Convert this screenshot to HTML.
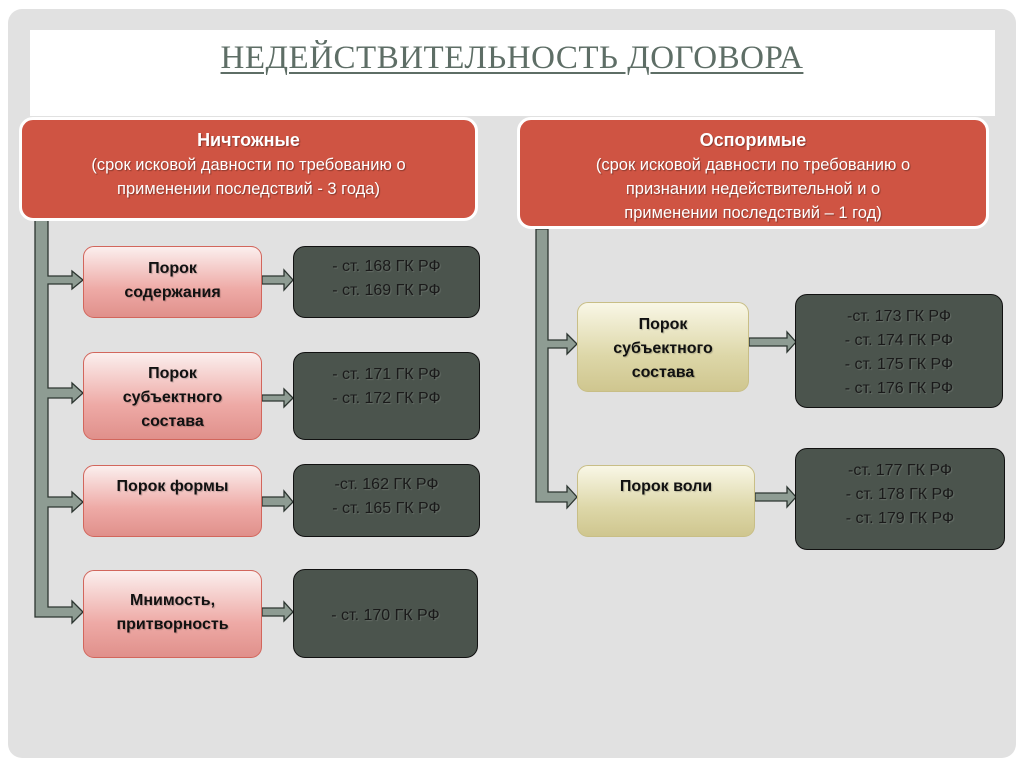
<!DOCTYPE html>
<html><head><meta charset="utf-8"><style>
*{margin:0;padding:0;box-sizing:border-box}
body{width:1024px;height:767px;background:#fff;position:relative;overflow:hidden;font-family:"Liberation Sans","DejaVu Sans",sans-serif}
.panel{position:absolute;left:8px;top:9px;width:1008px;height:749px;background:#e1e1e1;border-radius:14px}
.white{position:absolute;left:30px;top:30px;width:965px;height:86px;background:#fff}
.title{position:absolute;left:0;top:40px;width:1024px;text-align:center;font-family:"Liberation Serif",serif;font-size:33px;color:#5e6e66;text-decoration:underline;text-decoration-thickness:2px;text-underline-offset:4px;letter-spacing:0.5px}
.hdr{position:absolute;background:#cf5443;border:3px solid #fff;border-radius:14px;color:#fff;text-align:center;font-size:16.5px;line-height:24px;text-shadow:1px 1px 1px rgba(0,0,0,.35);padding-top:8px}
.hdr b{font-size:18px}
.box{position:absolute;border-radius:11px;text-align:center;font-weight:bold;font-size:16px;line-height:24px;color:#111;text-shadow:1px 1px 1px rgba(0,0,0,.2)}
.pink{background:linear-gradient(#fbefee,#eeaaa6 60%,#e0908b);border:1px solid #d2665c}
.yel{background:linear-gradient(#f9f7e6,#ddd7a8 60%,#cfc68f);border:1px solid #c8be86}
.dk{position:absolute;background:#4b544d;border:1.5px solid #111;border-radius:12px;text-align:center;font-size:16px;line-height:24px;color:#1a1a1a;text-shadow:1px 1px 1px rgba(255,255,255,.15)}
</style></head><body>
<div class="panel"></div>
<div class="white"></div>
<div class="title">НЕДЕЙСТВИТЕЛЬНОСТЬ ДОГОВОРА</div>

<svg style="position:absolute;left:0;top:0" width="1024" height="767">
<g fill="#8e9c93" stroke="#2c3530" stroke-width="1.3">
<path d="M35,220 H48 V276 H72 V271 L83,280 L72,289 V284 H48 V388 H72 V383 L83,393 L72,403 V398 H48 V497 H72 V492 L83,502 L72,512 V507 H48 V607 H72 V601 L83,612 L72,623 V617 H35 Z"/>
<path d="M262,276 H284 V270 L293,280 L284,290 V284 H262 Z"/>
<path d="M262,395 H284 V389 L293,398 L284,407 V401 H262 Z"/>
<path d="M262,497 H284 V491 L293,502 L284,511 V506 H262 Z"/>
<path d="M262,608 H284 V602 L293,612 L284,621 V616 H262 Z"/>
<path d="M536,229 H548 V340 H567 V334 L577,344 L567,354 V348 H548 V492 H567 V486 L577,497 L567,508 V502 H536 Z"/>
<path d="M749,338 H787 V332 L796,342 L787,352 V346 H749 Z"/>
<path d="M755,493 H787 V487 L796,497 L787,507 V501 H755 Z"/>
</g>
</svg>

<div class="hdr" style="left:19px;top:117px;width:459px;height:104px"><b>Ничтожные</b><br>(срок исковой давности по требованию о<br>применении последствий - 3 года)</div>
<div class="hdr" style="left:517px;top:117px;width:472px;height:112px"><b>Оспоримые</b><br>(срок исковой давности по требованию о<br>признании недействительной и о<br>применении последствий – 1 год)</div>

<div class="box pink" style="left:83px;top:246px;width:179px;height:72px;padding-top:10px">Порок<br>содержания</div>
<div class="box pink" style="left:83px;top:352px;width:179px;height:88px;padding-top:9px">Порок<br>субъектного<br>состава</div>
<div class="box pink" style="left:83px;top:465px;width:179px;height:72px;padding-top:9px">Порок формы</div>
<div class="box pink" style="left:83px;top:570px;width:179px;height:88px;padding-top:18px">Мнимость,<br>притворность</div>

<div class="dk" style="left:293px;top:246px;width:187px;height:72px;padding-top:8px">- ст. 168 ГК РФ<br>- ст. 169 ГК РФ</div>
<div class="dk" style="left:293px;top:352px;width:187px;height:88px;padding-top:10px">- ст. 171 ГК РФ<br>- ст. 172 ГК РФ</div>
<div class="dk" style="left:293px;top:464px;width:187px;height:73px;padding-top:8px">-ст. 162 ГК РФ<br>- ст. 165 ГК РФ</div>
<div class="dk" style="left:293px;top:569px;width:185px;height:89px;padding-top:34px">- ст. 170 ГК РФ</div>

<div class="box yel" style="left:577px;top:302px;width:172px;height:90px;padding-top:10px">Порок<br>субъектного<br>состава</div>
<div class="box yel" style="left:577px;top:465px;width:178px;height:72px;padding-top:9px">Порок воли</div>

<div class="dk" style="left:795px;top:294px;width:208px;height:114px;padding-top:10px">-ст. 173 ГК РФ<br>- ст. 174 ГК РФ<br>- ст. 175 ГК РФ<br>- ст. 176 ГК РФ</div>
<div class="dk" style="left:795px;top:448px;width:210px;height:102px;padding-top:10px">-ст. 177 ГК РФ<br>- ст. 178 ГК РФ<br>- ст. 179 ГК РФ</div>
</body></html>
